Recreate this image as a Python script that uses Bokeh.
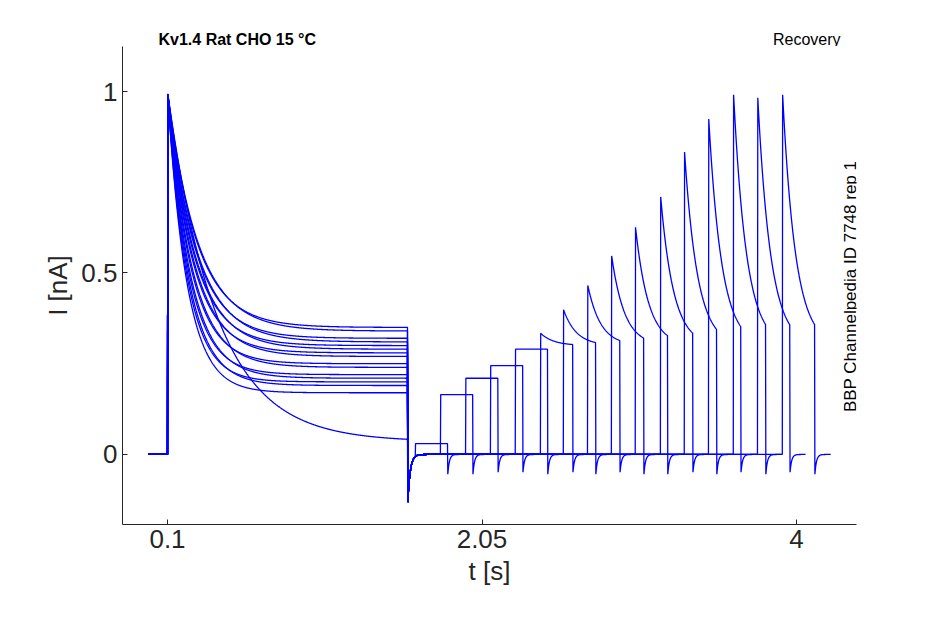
import numpy as np
from bokeh.plotting import figure
from bokeh.layouts import column
from bokeh.models import Label, FixedTicker
from bokeh.core.properties import value
from bokeh.embed import file_html
from bokeh.resources import INLINE

# per-sweep parameters
steady1 = [0.035, 0.17, 0.19, 0.20, 0.21, 0.22, 0.24, 0.25, 0.27, 0.28, 0.29, 0.30, 0.31, 0.32, 0.34, 0.35]
tau1 = [0.30, 0.12, 0.13, 0.12, 0.14, 0.13, 0.15, 0.14, 0.16, 0.15, 0.17, 0.16, 0.18, 0.17, 0.19, 0.18]
rec_start = [1.637, 1.793, 1.948, 2.102, 2.257, 2.412, 2.555, 2.704, 2.853, 3.001, 3.156, 3.305, 3.454, 3.609, 3.758, 3.913]
rec_peak = [0.03, 0.165, 0.21, 0.245, 0.29, 0.335, 0.40, 0.47, 0.55, 0.63, 0.72, 0.84, 0.94, 1.0, 1.0, 1.0]
y_ticks = [0, 0.5, 1]
x_ticks = [0.1, 2.05, 4]
t_on, t_off, rec_len = 0.1, 1.588, 0.2

# title strip
tf = figure(frame_width=734, frame_height=46, min_border_left=122, min_border_right=74,
            min_border_top=0, min_border_bottom=0, x_range=(0, 734), y_range=(0, 46),
            output_backend="svg", toolbar_location=None)
tf.axis.visible = False
tf.grid.visible = False
tf.outline_line_color = None
tf.text(x=[36], y=[7], text=["Kv1.4  Rat  CHO  15 °C"], text_font_size="16px",
        text_font_style="bold", text_baseline="middle", text_color="black")
tf.text(x=[718], y=[7], text=["Recovery"], text_font_size="16px",
        text_align="right", text_baseline="middle", text_color="black")

p = figure(frame_width=734, frame_height=478, min_border_left=122, min_border_right=74,
           min_border_top=0, min_border_bottom=85, x_range=(-0.179, 4.372), y_range=(-0.193, 1.124),
           output_backend="svg", toolbar_location=None)
p.outline_line_color = None
p.grid.visible = False

for s, tau, ts, pk in zip(steady1, tau1, rec_start, rec_peak):
    t = np.arange(-0.02, ts + rec_len + 0.1, 0.002)
    y = np.zeros_like(t)
    m1 = (t >= t_on) & (t < t_off)
    y[m1] = s + (1 - s) * np.exp(-(t[m1] - t_on) / tau)
    m0 = (t >= t_off) & (t < ts)
    y[m0] = -0.15 * np.exp(-(t[m0] - t_off) / 0.015)
    m2 = (t >= ts) & (t < ts + rec_len)
    ss2 = min(pk, 0.3)
    y[m2] = ss2 + (pk - ss2) * np.exp(-(t[m2] - ts) / 0.08)
    m3 = t >= ts + rec_len
    y[m3] = -0.06 * np.exp(-(t[m3] - ts - rec_len) / 0.01)
    p.line(t, y, line_color="#0000ff", line_width=1.3)

for ax in (p.xaxis, p.yaxis):
    ax.major_label_text_font_size = "26px"
    ax.axis_label_text_font_size = "26px"
    ax.axis_label_text_font_style = "normal"
    ax.major_label_text_color = "#262626"
    ax.axis_label_text_color = "#262626"
    ax.major_tick_in = 5
    ax.major_tick_out = 0
    ax.minor_tick_line_color = None
    ax.axis_line_color = "#262626"
    ax.major_tick_line_color = "#262626"
p.xaxis.ticker = FixedTicker(ticks=x_ticks)
p.yaxis.ticker = FixedTicker(ticks=y_ticks)
p.xaxis.axis_label = "t [s]"
p.yaxis.axis_label = "I [nA]"
p.xaxis.major_label_overrides = {0.1: "0.1", 2.05: "2.05", 4: "4"}

p.add_layout(Label(x=4.335, y=0.463, text="BBP Channelpedia ID 7748 rep 1", text_font_size="17px",
                   text_align="center", text_baseline="middle", angle=np.pi / 2, text_color="black"))

open("out.html", "w").write(file_html(column(tf, p, spacing=0), INLINE))
